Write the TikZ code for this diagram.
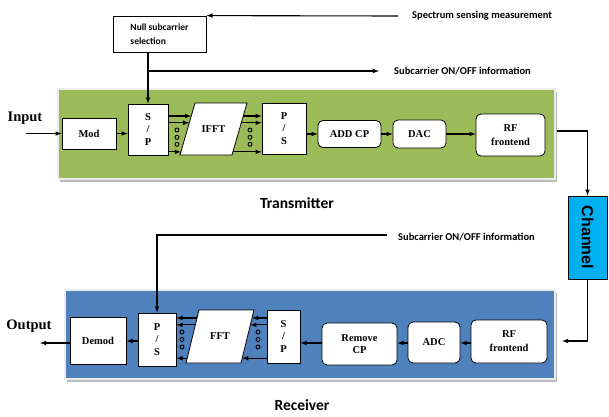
\documentclass[tikz,border=0pt]{standalone}
\usepackage{fontspec}
\setmainfont{Liberation Serif}
\newfontfamily\calib{Carlito}
\newfontfamily\arialf{Liberation Sans}
\usetikzlibrary{shapes,arrows,calc,shadows}

\definecolor{txgreen}{RGB}{155,187,89}
\definecolor{rxblue}{RGB}{79,129,189}
\definecolor{chcyan}{RGB}{0,176,240}

\tikzset{
  blk/.style={draw,fill=white,line width=0.8pt,inner sep=0pt,align=center,
    font=\bfseries\fontsize{10.5}{12.5}\selectfont},
  rblk/.style={blk,rounded corners=5pt},
  lbl/.style={inner sep=0pt,font=\bfseries\fontsize{10.5}{12.5}\selectfont},
  panel/.style={draw=gray!15,line width=2pt,inner sep=0pt,
    drop shadow={shadow xshift=2pt,shadow yshift=-3pt,fill=gray!55,opacity=1}},
  note/.style={anchor=west,inner sep=0pt,font=\calib\bfseries\fontsize{10.5}{12}\selectfont},
  ttl/.style={inner sep=0pt,font=\calib\bfseries\fontsize{15.5}{18}\selectfont},
  io/.style={inner sep=0pt,font=\bfseries\fontsize{14.5}{15}\selectfont},
  dot/.style={circle,draw,line width=0.9pt,inner sep=0pt,minimum size=4pt},
  link/.style={->,>=latex,line width=1.1pt}
}

\begin{document}
\begin{tikzpicture}[x=1pt,y=-1pt]
\useasboundingbox (0,0) rectangle (609,416);

% panels
\node[panel,fill=txgreen,minimum width=497pt,minimum height=90pt] (tx) at (306.5,134) {};
\node[panel,fill=rxblue,minimum width=490pt,minimum height=89pt] (rx) at (310,334.5) {};
\node[ttl] (txt) at (297,203) {Transmitter};
\node[ttl] (rxt) at (302,405) {Receiver};

% transmitter
\node[blk,minimum width=54pt,minimum height=31pt] (mod) at (89,133.5) {Mod};
\node[blk,minimum width=40pt,minimum height=51pt] (sp) at (148,129.5) {S\\/\\P};
\coordinate (ifftbl) at (180,155);
\coordinate (iffttl) at (195,103);
\coordinate (iffttr) at (247,103);
\coordinate (ifftbr) at (232,155);
\draw[fill=white,line width=0.8pt] (ifftbl) -- (iffttl) -- (iffttr) -- (ifftbr) -- cycle;
\node[lbl] (ifft) at (213.5,129) {IFFT};
\node[blk,minimum width=44pt,minimum height=51pt] (ps) at (284,128.5) {P\\/\\S};
\node[rblk,minimum width=63pt,minimum height=27pt] (addcp) at (349.5,134) {ADD CP};
\node[rblk,minimum width=53pt,minimum height=28pt] (dac) at (419.5,134) {DAC};
\node[rblk,minimum width=69pt,minimum height=42pt,font=\bfseries\fontsize{10.5}{14}\selectfont] (rf) at (510.5,135) {RF\\frontend};

\node[blk,minimum width=93pt,minimum height=36pt,align=left,
  font=\calib\bfseries\fontsize{9.5}{14}\selectfont] (nsel) at (159.5,34) {Null subcarrier\\selection};
\node[note] (spectxt) at (412,16) {Spectrum sensing measurement};
\node[note] (subtx) at (394,71) {Subcarrier ON/OFF information};
\coordinate (spec) at (398,16);
\coordinate (ontx) at (379,71);

\node[io] (inp) at (25,118) {Input};
\coordinate (in) at (26,133.5);

% receiver
\node[blk,minimum width=56pt,minimum height=47pt] (demod) at (98,340.5) {Demod};
\node[blk,minimum width=38pt,minimum height=53pt] (psr) at (157,339.5) {P\\/\\S};
\coordinate (fftbl) at (186,363);
\coordinate (ffttl) at (199,310);
\coordinate (ffttr) at (254,310);
\coordinate (fftbr) at (241,363);
\draw[fill=white,line width=0.8pt] (fftbl) -- (ffttl) -- (ffttr) -- (fftbr) -- cycle;
\node[lbl] (fft) at (220,336.5) {FFT};
\node[blk,minimum width=33pt,minimum height=53pt] (spr) at (283.5,336.5) {S\\/\\P};
\node[rblk,minimum width=75pt,minimum height=42pt] (rmcp) at (359.5,344) {Remove\\CP};
\node[rblk,minimum width=52pt,minimum height=41pt] (adc) at (434,342.5) {ADC};
\node[rblk,minimum width=76pt,minimum height=43pt,font=\bfseries\fontsize{10.5}{14}\selectfont] (rfr) at (509,341.5) {RF\\frontend};

\node[note] (subrx) at (398,237) {Subcarrier ON/OFF information};
\coordinate (onrx) at (387,235);
\node[io] (outp) at (29,326) {Output};
\coordinate (out) at (40,343);

% channel
\node[draw,fill=chcyan,line width=0.8pt,minimum width=39pt,minimum height=83pt,inner sep=0pt] (chan) at (587.5,237.5) {};
\node[rotate=-90,inner sep=0pt,font=\arialf\bfseries\fontsize{16}{16}\selectfont] (chantxt) at (chan.center) {Channel};
\coordinate (txout) at (557,131);
\coordinate (rxin) at (562,341);

% transmitter links
\draw[link] (in) -- (mod.west);
\draw[link] (mod.east) -- (sp.west |- mod.east);
\foreach \t [count=\k] in {0.75,0.62,0.06}
{
  \coordinate (il\k) at ($(ifftbl)!\t!(iffttl)$);
  \coordinate (ir\k) at ($(ifftbr)!\t!(iffttr)$);
  \draw[link] (sp.east |- il\k) -- (il\k);
  \draw[link] (ir\k) -- (ps.west |- ir\k);
}
\foreach \y in {130,137.3,144.3}
{
  \node[dot] at (177,\y) {};
  \node[dot] at (250,\y) {};
}
\draw[link] (ps.east |- addcp.west) -- (addcp.west);
\draw[link] (addcp.east) -- (dac.west);
\draw[link] (dac.east) -- (rf.west |- dac.east);
\draw[link] (txout) -| (chan.north);

\draw[link] (spec) -- (nsel.north east);
\draw[link] (nsel.south -| sp.north) -- (sp.north);
\draw[link] (sp.north |- ontx) -- (ontx);

% receiver links
\draw[link] (chan.south) |- (rxin);
\draw[link] (rfr.west |- 0,343) -- (adc.east |- 0,343);
\draw[link] (adc.west |- 0,343) -- (rmcp.east |- 0,343);
\draw[link] (rmcp.west |- 0,343) -- (spr.east |- 0,343);
\foreach \t [count=\k] in {0.85,0.72,0.09}
{
  \coordinate (fl\k) at ($(fftbl)!\t!(ffttl)$);
  \coordinate (fr\k) at ($(fftbr)!\t!(ffttr)$);
  \draw[link] (spr.west |- fr\k) -- (fr\k);
  \draw[link] (fl\k) -- (psr.east |- fl\k);
}
\foreach \y in {332,339.5,347}
{
  \node[dot] at (182,\y) {};
  \node[dot] at (258,\y) {};
}
\draw[link] (psr.west |- 0,341) -- (demod.east |- 0,341);
\draw[link] (demod.west |- out) -- (out);
\draw[link] (onrx) -| (psr.north);
\end{tikzpicture}
\end{document}
